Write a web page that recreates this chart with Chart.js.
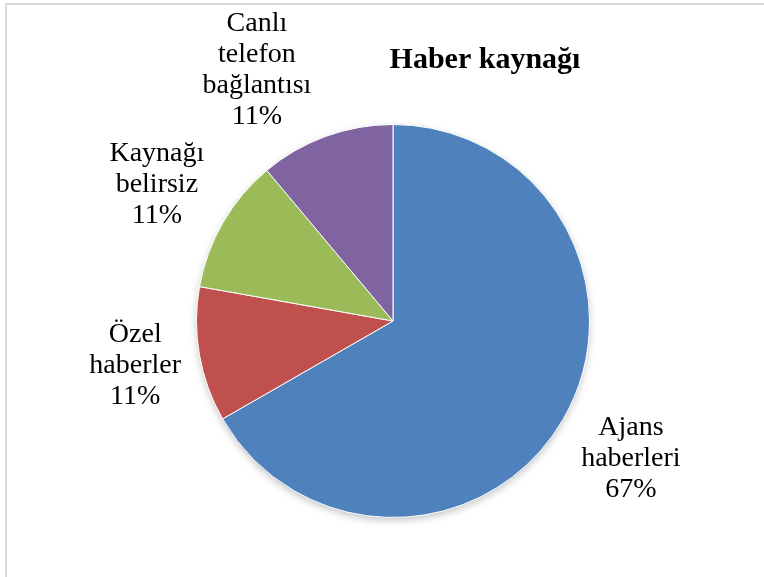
<!DOCTYPE html>
<html lang="tr">
<head>
    <meta charset="UTF-8">
    <title>Haber kaynağı</title>
    <script src="https://cdn.jsdelivr.net/npm/chart.js"></script>
    <style>
        html, body { margin: 0; padding: 0; background: #fff; overflow: hidden; }
        #wrap { position: relative; width: 764px; height: 577px; }
        #frame {
            position: absolute; left: 5px; top: 3px; width: 900px; height: 700px;
            border-top: 2px solid #d9d9d9; border-left: 2px solid #d9d9d9;
        }
        #box { position: absolute; left: 0; top: 0; width: 764px; height: 577px; }
    </style>
</head>
<body>
    <div id="wrap">
        <div id="frame"></div>
        <div id="box"><canvas id="myChart"></canvas></div>
    </div>

    <script>
        const chartTitle = 'Haber kaynağı';
        const categories = ['Ajans haberleri', 'Özel haberler', 'Kaynağı belirsiz', 'Canlı telefon bağlantısı'];
        // satırlara bölünmüş etiketler (Excel'deki gibi)
        const labelLines = [
            ['Ajans', 'haberleri'],
            ['Özel', 'haberler'],
            ['Kaynağı', 'belirsiz'],
            ['Canlı', 'telefon', 'bağlantısı']
        ];
        const shares = [66.7, 11.1, 11.1, 11.1];
        const colors = ['#4F81BD', '#C0504D', '#9BBB59', '#8064A2'];

        const FONT = '"Liberation Serif", "Times New Roman", serif';

        // gölge
        const shadowPlugin = {
            id: 'pieShadow',
            beforeDatasetsDraw(chart) {
                const arc = chart.getDatasetMeta(0).data[0];
                if (!arc) return;
                const { x, y, outerRadius } = arc.getProps(['x', 'y', 'outerRadius'], true);
                const ctx = chart.ctx;
                ctx.save();
                ctx.shadowColor = 'rgba(0,0,0,0.28)';
                ctx.shadowBlur = 8;
                ctx.shadowOffsetY = 3;
                ctx.fillStyle = '#ffffff';
                ctx.beginPath();
                ctx.arc(x, y, outerRadius - 1, 0, Math.PI * 2);
                ctx.fill();
                ctx.restore();
            }
        };

        // dilim etiketleri + başlık
        const labelPlugin = {
            id: 'pieLabels',
            afterDatasetsDraw(chart) {
                const ctx = chart.ctx;
                const meta = chart.getDatasetMeta(0);
                const total = shares.reduce((a, b) => a + b, 0);
                const lh = 31;
                const pad = 12;
                const minTop = 8;
                ctx.save();
                ctx.fillStyle = '#000';
                ctx.font = '28px ' + FONT;
                ctx.textAlign = 'center';
                ctx.textBaseline = 'middle';
                meta.data.forEach((arc, i) => {
                    const p = arc.getProps(['x', 'y', 'startAngle', 'endAngle', 'outerRadius'], true);
                    let a = (p.startAngle + p.endAngle) / 2;
                    const lines = labelLines[i].concat([Math.round(shares[i] / total * 100) + '%']);
                    const hw = Math.max(...lines.map(t => ctx.measureText(t).width)) / 2;
                    const hh = lines.length * lh / 2;
                    let dx = Math.cos(a), dy = Math.sin(a);
                    const dist = p.outerRadius + pad + Math.abs(dx) * hw + Math.abs(dy) * hh;
                    // grafik alanına sığmazsa aynı uzaklıkta yana kaydır
                    const step = (dx < 0 ? -1 : 1) * Math.PI / 720;
                    let guard = 0;
                    while (p.y + dy * dist - hh < minTop && guard++ < 400) {
                        a += step;
                        dx = Math.cos(a);
                        dy = Math.sin(a);
                    }
                    const cx = p.x + dx * dist;
                    const cy = p.y + dy * dist;
                    lines.forEach((t, k) => {
                        ctx.fillText(t, cx, cy - hh + lh / 2 + k * lh);
                    });
                });
                ctx.font = 'bold 30px ' + FONT;
                ctx.textBaseline = 'alphabetic';
                ctx.fillText(chartTitle, 485, 68);
                ctx.restore();
            }
        };

        const ctx = document.getElementById('myChart').getContext('2d');
        new Chart(ctx, {
            type: 'pie',
            data: {
                labels: categories,
                datasets: [{
                    data: shares,
                    backgroundColor: colors,
                    borderColor: '#ffffff',
                    borderWidth: 1
                }]
            },
            options: {
                responsive: true,
                maintainAspectRatio: false,
                animation: false,
                layout: {
                    padding: { top: 124, left: 196, right: 174, bottom: 59 }
                },
                plugins: {
                    legend: { display: false },
                    title: { display: false },
                    tooltip: { enabled: false }
                }
            },
            plugins: [shadowPlugin, labelPlugin]
        });
    </script>
</body>
</html>
